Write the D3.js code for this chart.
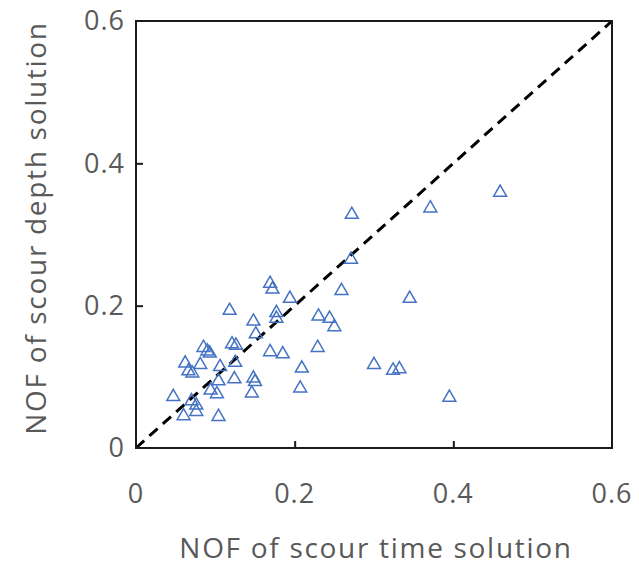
<!DOCTYPE html>
<html>
<head>
<meta charset="utf-8">
<script src="https://cdn.jsdelivr.net/npm/d3@7"></script>
<style>
  body { margin: 0; background: #fff; }
  text { font-family: "Open Sans", sans-serif; fill: #595959; }
</style>
</head>
<body>
<div id="chart"></div>
<script>
// NOF values
var timeNOF = [0.459, 0.371, 0.272, 0.271, 0.259, 0.345, 0.230, 0.244, 0.250, 0.229,
  0.209, 0.207, 0.300, 0.324, 0.332, 0.395,
  0.169, 0.172, 0.194, 0.118, 0.177, 0.177, 0.148, 0.151, 0.121, 0.126,
  0.169, 0.185, 0.085, 0.090, 0.093, 0.125, 0.062, 0.081, 0.106, 0.066,
  0.071, 0.104, 0.124, 0.148, 0.150, 0.094, 0.102, 0.146, 0.047, 0.070,
  0.076, 0.076, 0.060, 0.104];
var depthNOF = [0.359, 0.337, 0.328, 0.265, 0.221, 0.210, 0.185, 0.182, 0.170, 0.141,
  0.112, 0.084, 0.117, 0.109, 0.111, 0.071,
  0.231, 0.223, 0.210, 0.193, 0.190, 0.182, 0.178, 0.160, 0.146, 0.144,
  0.135, 0.132, 0.141, 0.136, 0.133, 0.120, 0.119, 0.117, 0.114, 0.108,
  0.105, 0.094, 0.097, 0.098, 0.093, 0.081, 0.076, 0.077, 0.072, 0.066,
  0.060, 0.051, 0.045, 0.044];
var ticks = [0, 0.2, 0.4, 0.6];
var lineX = [0, 0.6];

var W = 639, H = 565;
var margin = {top: 21, right: 27, bottom: 117, left: 136},
  width = W - margin.left - margin.right,
  height = H - margin.top - margin.bottom;

var x = d3.scaleLinear().domain([0, 0.6]).range([0, width]);
var y = d3.scaleLinear().domain([0, 0.6]).range([height, 0]);

var svg = d3.select('#chart')
  .append('svg')
    .attr('width', W)
    .attr('height', H)
  .append('g')
    .attr('transform', 'translate(' + margin.left + ',' + margin.top + ')');

// 1:1 line
svg.append('line')
  .attr('x1', x(lineX[0])).attr('y1', y(lineX[0]))
  .attr('x2', x(lineX[1])).attr('y2', y(lineX[1]))
  .attr('stroke', '#000')
  .attr('stroke-width', 3)
  .attr('stroke-dasharray', '11,7');

// points
var tri = d3.symbol().type(d3.symbolTriangle).size(72);
svg.selectAll('.pt')
  .data(timeNOF)
  .enter().append('path')
    .attr('class', 'pt')
    .attr('d', tri)
    .attr('transform', function(d, i) { return 'translate(' + x(d) + ',' + y(depthNOF[i]) + ')'; })
    .attr('fill', 'none')
    .attr('stroke', '#4472C4')
    .attr('stroke-width', 1.5);

// box
svg.append('rect')
  .attr('width', width)
  .attr('height', height)
  .attr('fill', 'none')
  .attr('stroke', '#1a1a1a')
  .attr('stroke-width', 2);

// inner ticks
var xAxis = svg.append('g')
  .attr('transform', 'translate(0,' + height + ')')
  .call(d3.axisTop(x).tickValues(ticks.slice(1, 3)).tickSize(7).tickFormat(''));
var yAxis = svg.append('g')
  .call(d3.axisRight(y).tickValues(ticks.slice(1, 3)).tickSize(7).tickFormat(''));
[xAxis, yAxis].forEach(function(a) {
  a.select('.domain').remove();
  a.selectAll('line').attr('stroke', '#1a1a1a').attr('stroke-width', 2);
});

// tick labels
svg.selectAll('.xl')
  .data(ticks)
  .enter().append('text')
    .attr('x', function(d) { return x(d); })
    .attr('y', height + 55)
    .attr('text-anchor', 'middle')
    .style('font-size', '27px')
    .style('letter-spacing', '1px')
    .text(function(d) { return d; });

svg.selectAll('.yl')
  .data(ticks)
  .enter().append('text')
    .attr('x', -11)
    .attr('y', function(d) { return y(d); })
    .attr('dy', '0.35em')
    .attr('text-anchor', 'end')
    .style('font-size', '27px')
    .style('letter-spacing', '1px')
    .text(function(d) { return d; });

// axis titles
svg.append('text')
  .attr('x', 376 - margin.left)
  .attr('y', height + 110)
  .attr('text-anchor', 'middle')
  .style('font-size', '28px')
  .style('letter-spacing', '1.7px')
  .text('NOF of scour time solution');

svg.append('text')
  .attr('transform', 'translate(' + (46 - margin.left) + ',' + (228 - margin.top) + ') rotate(-90)')
  .attr('text-anchor', 'middle')
  .style('font-size', '28px')
  .style('letter-spacing', '1.7px')
  .text('NOF of scour depth solution');
</script>
</body>
</html>
